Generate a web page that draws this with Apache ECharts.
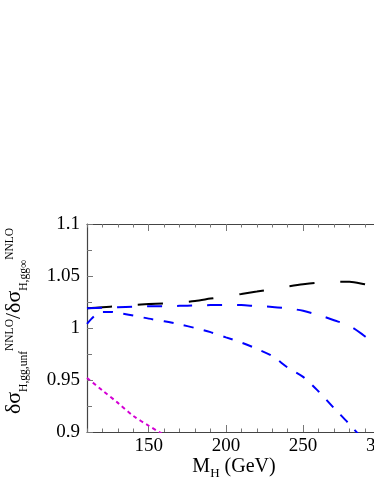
<!DOCTYPE html>
<html><head><meta charset="utf-8">
<script src="https://cdn.jsdelivr.net/npm/echarts@6/dist/echarts.min.js"></script>
<style>html,body{margin:0;padding:0;background:#fff}#c{width:374px;height:484px}</style>
</head><body><div id="c"></div>
<script>
// ---- data ----
const xTickLabels = [150, 200, 250, 300];
const yTickLabels = [0.9, 0.95, 1, 1.05, 1.1];

const blackX = [110,120,130,140,150,160,170,180,190,200,210,220,230,240,250,260,270,280,290,300];
const blackY = [1.019,1.020,1.021,1.0222,1.023,1.0235,1.0245,1.026,1.0283,1.0305,1.0327,1.035,1.0374,1.0398,1.042,1.0437,1.0445,1.0445,1.042,1.039];

const blueUpX = [110,120,130,140,150,160,170,180,190,200,210,220,230,240,250,260,270,280,290,300];
const blueUpY = [1.019,1.0195,1.020,1.0205,1.021,1.021,1.0213,1.0217,1.022,1.0222,1.022,1.021,1.0203,1.019,1.0165,1.0125,1.0075,1.002,0.992,0.980];

const blueLoX = [110,113,116,120,125,130,140,150,160,170,180,190,200,210,220,230,240,250,260,270,280,290];
const blueLoY = [1.004,1.009,1.013,1.0155,1.0155,1.0145,1.012,1.009,1.0065,1.0035,1.000,0.996,0.991,0.986,0.980,0.973,0.962,0.953,0.939,0.923,0.9075,0.891];

const magX = [110,120,130,140,150,160];
const magY = [0.952,0.940,0.928,0.9155,0.906,0.897];

const FONT = '"Liberation Serif","Times New Roman",serif';
const pairs = (xs, ys) => xs.map((x, i) => [x, ys[i]]);

const ctx = document.createElement('canvas').getContext('2d');
function measure(t, fs) { ctx.font = fs + 'px ' + FONT; return ctx.measureText(t).width; }

function buildLabel(parts, cx, baseY, rotation) {
  const widths = parts.map(p => measure(p.t, p.fs));
  const total = widths.reduce((a, b) => a + b, 0);
  let pos = 0;
  const children = parts.map((p, i) => {
    const el = {
      type: 'text', x: pos, y: p.b - 0.34 * p.fs,
      style: { text: p.t, font: p.fs + 'px ' + FONT, fill: '#000',
               textAlign: 'left', textVerticalAlign: 'middle', align: 'left', verticalAlign: 'middle' }
    };
    pos += widths[i];
    return el;
  });
  if (rotation) {
    return { type: 'group', x: baseY, y: cx + total / 2, rotation: rotation, children };
  }
  return { type: 'group', x: cx - total / 2, y: baseY, children };
}

const yTitle = buildLabel([
  { t: 'δσ', fs: 22, b: 0 },
  { t: 'H,gg,unf', fs: 11.5, b: 6 },
  { t: 'NNLO', fs: 11.5, b: -8 },
  { t: '/δσ', fs: 22, b: 0 },
  { t: 'H,gg∞', fs: 11.5, b: 6 },
  { t: 'NNLO', fs: 11.5, b: -8 }
], 321, 22, Math.PI / 2);

const xTitle = buildLabel([
  { t: 'M', fs: 20, b: 0 },
  { t: 'H', fs: 13, b: 4 },
  { t: ' (GeV)', fs: 20, b: 0 }
], 234, 474, 0);

const axisLineStyle = { color: '#444', width: 1.2 };
const tickStyle = { color: '#777', width: 1 };
function xAx(pos, major, labels) {
  const a = {
    type: 'value', position: pos, min: 110, max: 300,
    axisLine: { show: major, lineStyle: axisLineStyle, onZero: false },
    splitLine: { show: false },
    axisTick: { show: true, inside: true, length: major ? 7 : 3.5, lineStyle: tickStyle },
    axisLabel: { show: false }
  };
  if (major) {
    a.axisTick.customValues = xTickLabels;
    a.axisLabel = { show: labels, customValues: xTickLabels, fontFamily: FONT, fontSize: 19, color: '#000', margin: 5,
                    hideOverlap: false };
  } else {
    a.interval = 10;
  }
  return a;
}

const chart = echarts.init(document.getElementById('c'), null, { renderer: 'canvas' });
chart.setOption({
  backgroundColor: '#fff',
  animation: false,
  grid: { left: 87, top: 224, right: -6.3, bottom: 52, containLabel: false, outerBoundsMode: 'none' },
  xAxis: [xAx('bottom', true, true), xAx('bottom', false, false), xAx('top', true, false), xAx('top', false, false)],
  yAxis: [{
    type: 'value', min: 0.9, max: 1.1, interval: 0.05,
    axisLine: { show: true, lineStyle: axisLineStyle, onZero: false },
    splitLine: { show: false },
    axisTick: { show: true, inside: true, length: 6, lineStyle: tickStyle },
    minorTick: { show: true, splitNumber: 2, length: 5, lineStyle: tickStyle },
    axisLabel: { fontFamily: FONT, fontSize: 19, color: '#000', margin: 7,
                 customValues: yTickLabels, formatter: v => String(+v.toFixed(2)) }
  }],
  graphic: [yTitle, xTitle],
  series: [
    { type: 'line', data: pairs(blackX, blackY), showSymbol: false, smooth: 0.3, clip: true,
      lineStyle: { color: '#000', width: 2, type: [25, 26] } },
    { type: 'line', data: pairs(blueUpX, blueUpY), showSymbol: false, smooth: 0.3, clip: true,
      lineStyle: { color: '#0000ff', width: 2, type: [15, 15] } },
    { type: 'line', data: pairs(blueLoX, blueLoY), showSymbol: false, smooth: 0.3, clip: true,
      lineStyle: { color: '#0000ff', width: 2, type: [10, 10.5] } },
    { type: 'line', data: pairs(magX, magY), showSymbol: false, smooth: 0.3, clip: true,
      lineStyle: { color: '#d400d4', width: 2, type: [4, 3.5] } }
  ]
});
</script>
</body></html>
